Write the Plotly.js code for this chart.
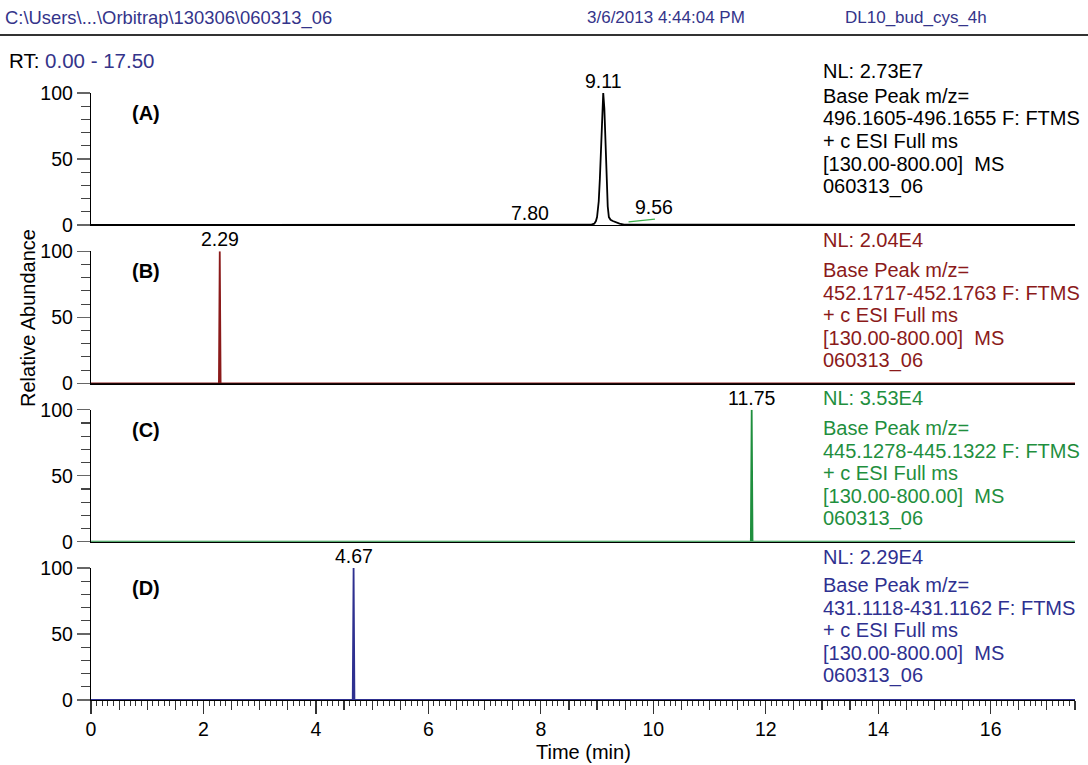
<!DOCTYPE html>
<html>
<head>
<meta charset="utf-8">
<script src="https://cdn.plot.ly/plotly-3.0.1.min.js"></script>
<style>html,body{margin:0;padding:0;background:#fff;}#chart{width:1088px;height:765px;}</style>
</head>
<body>
<div id="chart"></div>
<script>
// ---------------- DATA ----------------
const timeA = [0, 7.70, 7.80, 7.90, 8.90, 8.95, 8.98, 9.00, 9.03, 9.05, 9.07, 9.09, 9.11, 9.13, 9.15, 9.17, 9.19, 9.21, 9.24, 9.28, 9.33, 9.40, 9.48, 17.5];
const relA  = [0, 0.0, 0.4, 0.0, 0.3, 1.0, 3.0, 6, 18, 35, 62, 90, 100, 88, 60, 32, 14, 6, 4, 3, 2, 1, 0.3, 0];
const timeB = [0, 2.275, 2.29, 2.305, 17.5];
const relB  = [0, 0, 100, 0, 0];
const timeC = [0, 11.735, 11.75, 11.765, 17.5];
const relC  = [0, 0, 100, 0, 0];
const timeD = [0, 4.655, 4.67, 4.685, 17.5];
const relD  = [0, 0, 100, 0, 0];

// leader line of the "9.56" label in panel A
const leaderTime = [9.56, 10.03];
const leaderRel  = [2.3, 4.5];

// peak labels [text, time, rel] per panel
const peakLabelText = [['9.11', '7.80', '9.56'], ['2.29'], ['11.75'], ['4.67']];
const peakLabelTime = [[9.11, 7.80, 10.01], [2.29], [11.75], [4.67]];
const peakLabelRel  = [[100, 0, 4.5], [100], [100], [100]];

const panelNames = ['(A)', '(B)', '(C)', '(D)'];
const nlValues = ['2.73E7', '2.04E4', '3.53E4', '2.29E4'];
const mzRanges = ['496.1605-496.1655', '452.1717-452.1763', '445.1278-445.1322', '431.1118-431.1162'];
const scanFilter = ['+ c ESI Full ms', '[130.00-800.00]  MS', '060313_06'];

const xTickVals = [0, 2, 4, 6, 8, 10, 12, 14, 16];
const yTickVals = [0, 50, 100];
const rtRange = [0, 17.5];

const headerPath = 'C:\\Users\\...\\Orbitrap\\130306\\060313_06';
const headerDate = '3/6/2013 4:44:04 PM';
const headerName = 'DL10_bud_cys_4h';

// ---------------- STYLE / LAYOUT ----------------
const W = 1088, H = 765, ML = 91, MR = 13, MT = 93, MB = 65;
const PW = W - ML - MR, PH = H - MT - MB;
const px2x = p => (p - ML) / PW;
const py2y = p => (H - MB - p) / PH;

const colors = ['#000000', '#8b1a1a', '#1f8f3e', '#2e3090'];
const navy = '#34348a';
const FONT = 'Liberation Sans, Arial, Helvetica, sans-serif';
const fs = 20;

const panelTop = [93, 251.3, 409.7, 568];
const panelH = 132;

const traces = [
  {x: timeA, y: relA, xaxis: 'x', yaxis: 'y'},
  {x: timeB, y: relB, xaxis: 'x2', yaxis: 'y2'},
  {x: timeC, y: relC, xaxis: 'x3', yaxis: 'y3'},
  {x: timeD, y: relD, xaxis: 'x4', yaxis: 'y4'}
].map((t, i) => Object.assign(t, {
  type: 'scatter', mode: 'lines', line: {color: colors[i], width: 1.8}, hoverinfo: 'skip', showlegend: false, cliponaxis: false
}));
traces.push({x: leaderTime, y: leaderRel, xaxis: 'x', yaxis: 'y', type: 'scatter', mode: 'lines',
  line: {color: '#3cb04a', width: 1.2}, showlegend: false, hoverinfo: 'skip'});

const layout = {
  width: W, height: H,
  margin: {l: ML, r: MR, t: MT, b: MB, pad: 0},
  paper_bgcolor: '#fff', plot_bgcolor: 'rgba(0,0,0,0)',
  font: {family: FONT, size: fs, color: '#000'},
  showlegend: false,
  annotations: [],
  shapes: []
};

const yKeys = ['yaxis', 'yaxis2', 'yaxis3', 'yaxis4'];
const xKeys = ['xaxis', 'xaxis2', 'xaxis3', 'xaxis4'];
const yIds = ['y', 'y2', 'y3', 'y4'];
const xIds = ['x', 'x2', 'x3', 'x4'];

for (let i = 0; i < 4; i++) {
  const d0 = py2y(panelTop[i] + panelH), d1 = py2y(panelTop[i]);
  layout[yKeys[i]] = {
    domain: [d0, Math.min(d1, 1)], range: [0, 100], anchor: xIds[i],
    showgrid: false, zeroline: false, showline: true, linecolor: '#000', linewidth: 1.2,
    tickmode: 'array', tickvals: yTickVals, ticks: 'outside', ticklen: 13, tickwidth: 1.2, tickcolor: '#666',
    tickfont: {family: FONT, size: 19.5, color: '#000'}, ticklabelstandoff: 0,
    minor: {dtick: 10, ticks: 'outside', ticklen: 9, tickwidth: 1.2, tickcolor: '#444', showgrid: false},
    fixedrange: true, layer: 'below traces'
  };
  const bottom = i === 3;
  layout[xKeys[i]] = {
    domain: [0, 1], range: rtRange, anchor: yIds[i],
    showgrid: false, zeroline: false, showline: true, linecolor: '#000', linewidth: 1.2,
    showticklabels: bottom, ticks: bottom ? 'outside' : '',
    tickmode: 'array', tickvals: xTickVals, ticklen: 13, tickwidth: 1.2, tickcolor: '#333',
    tickfont: {family: FONT, size: 19.5, color: '#000'}, ticklabelstandoff: -2,
    fixedrange: true, layer: 'below traces'
  };
  if (bottom) layout[xKeys[i]].minor = {dtick: 0.1, tick0: 0, ticks: 'outside', ticklen: 5, tickwidth: 1, tickcolor: '#333'};
}
// half-minute ticks on the bottom axis
layout.xaxis5 = {
  overlaying: 'x4', anchor: 'y4', range: rtRange, domain: [0, 1],
  showgrid: false, zeroline: false, showline: false, showticklabels: false,
  ticks: 'outside', dtick: 0.5, tick0: 0, ticklen: 9, tickwidth: 1.2, tickcolor: '#333', fixedrange: true
};
traces.push({x: [rtRange[0]], y: [null], xaxis: 'x5', yaxis: 'y4', type: 'scatter', mode: 'lines', showlegend: false, hoverinfo: 'skip'});

const ann = layout.annotations;
function txt(text, px, py, opts) {
  ann.push(Object.assign({text: text, xref: 'paper', yref: 'paper', x: px2x(px), y: py2y(py),
    xanchor: 'left', yanchor: 'middle', showarrow: false, font: {family: FONT, size: fs, color: '#000'}}, opts || {}));
}

// header
txt(headerPath, 3, 18, {font: {family: FONT, size: 18.4, color: navy}});
txt(headerDate, 585, 18, {font: {family: FONT, size: 17, color: navy}});
txt(headerName, 843, 18, {font: {family: FONT, size: 17, color: navy}});
layout.shapes.push({type: 'line', xref: 'paper', yref: 'paper', x0: px2x(0), x1: px2x(W), y0: py2y(35), y1: py2y(35), line: {color: '#333', width: 2}});
txt('RT: <span style="color:' + navy + '">0.00 - 17.50</span>', 7, 60, {font: {family: FONT, size: 20.5, color: '#000'}});

// axis titles
txt('Relative Abundance', 28, 318, {xanchor: 'center', textangle: -90});
txt('Time (min)', 583, 752, {xanchor: 'center'});

// panel labels and info blocks
const nlY = [71, 240, 398.5, 556.5];
const baseY = [96, 270, 428, 585];
for (let i = 0; i < 4; i++) {
  txt('<b>' + panelNames[i] + '</b>', 146, panelTop[i] + 20, {xanchor: 'center'});
  txt('NL: ' + nlValues[i], 821, nlY[i], {font: {family: FONT, size: fs, color: colors[i]}});
  const lines = ['Base Peak m/z=', mzRanges[i] + ' F: FTMS'].concat(scanFilter);
  lines.forEach((ln, k) => txt(ln, 821, baseY[i] + 22.5 * k, {font: {family: FONT, size: fs, color: colors[i]}}));
  // peak labels
  peakLabelText[i].forEach((t, k) => {
    ann.push({text: t, xref: xIds[i], yref: yIds[i], x: peakLabelTime[i][k], y: peakLabelRel[i][k],
      xanchor: 'center', yanchor: 'bottom', showarrow: false, yshift: -1,
      font: {family: FONT, size: 19.5, color: '#000'}});
  });
}

Plotly.newPlot('chart', traces, layout, {staticPlot: true, displayModeBar: false});
</script>
</body>
</html>
